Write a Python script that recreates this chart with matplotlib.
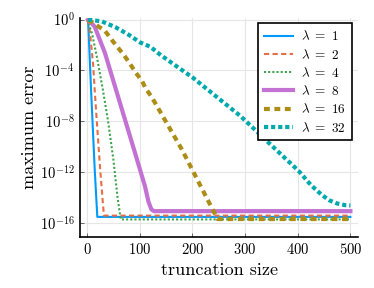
import numpy as np
import matplotlib
matplotlib.use("Agg")
import matplotlib.pyplot as plt

plt.rcParams['font.family'] = 'cmr10'
plt.rcParams['mathtext.fontset'] = 'cm'
plt.rcParams['axes.unicode_minus'] = False
plt.rcParams['axes.formatter.use_mathtext'] = True

# values: truncation size and log10(maximum error)
x_l1 = [2, 7.6, 14.6, 19.5, 500]
v_l1 = [0, -5.5, -11.8, -15.5, -15.5]

x_l2 = [0, 4, 11.5, 14.5, 18.4, 25, 32, 500]
v_l2 = [0, -0.4, -3.5, -5.5, -7.9, -11.8, -15.4, -15.4]

x_l4 = [0, 9.5, 19, 30, 40, 50, 58, 64, 500]
v_l4 = [0, -1.1, -3.0, -5.5, -8.0, -11.0, -14.0, -15.7, -15.7]

x_l8 = [2, 14.6, 34.2, 53.2, 72.2, 91.3, 110, 116.6, 122, 127, 500]
v_l8 = [0, -0.56, -2.65, -5.27, -7.88, -10.5, -13.1, -14.3, -14.9, -15.05, -15.05]

x_l16 = [2, 34, 47, 71, 82, 93, 104, 112, 123, 180, 232, 242, 248, 500]
v_l16 = [0, -0.88, -1.6, -2.84, -3.5, -4.2, -4.8, -5.45, -6.1, -10.2, -14.4, -15.2, -15.67, -15.67]

x_l32 = [2, 28, 54, 79, 101, 120, 139, 170, 202, 291, 329, 348, 402, 425, 445, 460, 475, 490, 500]
v_l32 = [0, -0.14, -0.6, -1.19, -1.8, -2.13, -2.76, -3.67, -4.6, -7.57, -9.05, -9.8, -11.9,
         -13.0, -13.75, -14.2, -14.45, -14.58, -14.6]

labels = [r'$\lambda\ =\ 1$', r'$\lambda\ =\ 2$', r'$\lambda\ =\ 4$',
          r'$\lambda\ =\ 8$', r'$\lambda\ =\ 16$', r'$\lambda\ =\ 32$']

fig = plt.figure(figsize=(3.74, 2.88), dpi=100)
ax = fig.add_axes([0.214, 0.178, 0.744, 0.758])

ax.plot(x_l1, 10.0 ** np.array(v_l1), color='#009AFA', lw=1.5, label=labels[0])
ax.plot(x_l2, 10.0 ** np.array(v_l2), color='#E36F47', lw=1.5, dashes=(2.5, 1.6), label=labels[1])
ax.plot(x_l4, 10.0 ** np.array(v_l4), color='#3EA44E', lw=1.5, dashes=(1, 1), label=labels[2])
ax.plot(x_l8, 10.0 ** np.array(v_l8), color='#C371D2', lw=3, label=labels[3])
ax.plot(x_l16, 10.0 ** np.array(v_l16), color='#AC8D18', lw=3, dashes=(1.4, 1.1), label=labels[4])
ax.plot(x_l32, 10.0 ** np.array(v_l32), color='#00A9AD', lw=3, dashes=(1, 0.7), label=labels[5])

ax.set_yscale('log')
ax.set_xlim(-13.3, 515)
ax.set_ylim(10 ** -17.06, 10 ** 0.09)
ax.set_xticks([0, 100, 200, 300, 400, 500])
ax.set_yticks([1e0, 1e-4, 1e-8, 1e-12, 1e-16])
ax.yaxis.set_minor_locator(matplotlib.ticker.NullLocator())

ax.grid(True, color='#e6e6e6', lw=0.8)
ax.set_axisbelow(True)
for s in ['top', 'right']:
    ax.spines[s].set_visible(False)
for s in ['left', 'bottom']:
    ax.spines[s].set_linewidth(1.2)
ax.tick_params(direction='in', length=3, width=0.6, color='#555555', labelsize=10.5, pad=4)

ax.set_xlabel('truncation size', fontsize=13, labelpad=4)
ax.set_ylabel('maximum error', fontsize=13, labelpad=2)

leg = ax.legend(loc='upper right', bbox_to_anchor=(0.978, 0.977), borderaxespad=0,
                fontsize=9.5, labelspacing=0.32, handlelength=2.2, fancybox=False,
                framealpha=1, edgecolor='black', borderpad=0.45, handletextpad=0.6)
leg.get_frame().set_linewidth(1.2)

fig.savefig('out.png', dpi=100)
